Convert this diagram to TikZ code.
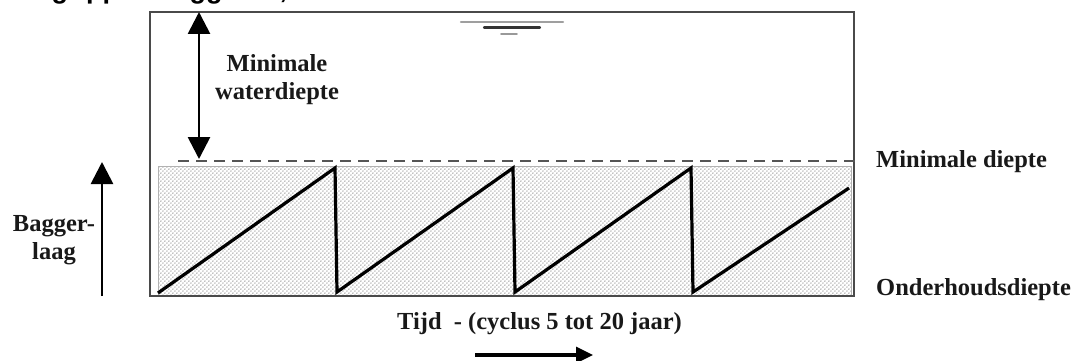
\documentclass[tikz,border=0pt]{standalone}
\usepackage{fontspec}
\setmainfont{Liberation Serif}
\newfontfamily\headfont{Liberation Sans}
\usetikzlibrary{arrows.meta,patterns}
\pgfdeclarepatternformonly{sanddots}{\pgfpointorigin}{\pgfpoint{4.4pt}{4.4pt}}{\pgfpoint{4.4pt}{4.4pt}}{%
  \pgfpathcircle{\pgfpoint{1.1pt}{1.1pt}}{0.8pt}%
  \pgfpathcircle{\pgfpoint{3.3pt}{3.3pt}}{0.8pt}%
  \pgfusepath{fill}}
\definecolor{boxgray}{HTML}{4A4A4A}
\definecolor{dashgray}{HTML}{555555}
\tikzset{
  lbl/.style={font=\bfseries\fontsize{24.5}{28}\selectfont, inner sep=0pt, text=black!90},
  bigarrow/.style={line width=2.8pt, -{Triangle[length=22pt,width=22pt]}},
  dblarrow/.style={line width=2.8pt, {Triangle[length=22pt,width=22pt]}-{Triangle[length=22pt,width=22pt]}},
  timearrow/.style={line width=3.2pt, -{Triangle[length=17pt,width=16pt]}},
  tooth/.style={line width=3.2pt, black, line join=miter},
  frame/.style={draw=boxgray, line width=1.7pt},
  mindash/.style={draw=dashgray, line width=1.5pt, dash pattern=on 11pt off 7pt},
  sand/.style={pattern=sanddots, pattern color=black!50},
  wl/.style={line width=2.2pt, line cap=round}
}
\begin{document}
\begin{tikzpicture}[x=1pt,y=-1pt]
\useasboundingbox (0,0) rectangle (1075,361);
\begin{scope}
\clip (0,0) rectangle (1075,361);
\node[anchor=base west, font=\headfont\bfseries\fontsize{27}{30}\selectfont, inner sep=0pt] (head) at (17,-1.5) {Begrippen baggeren,};
\end{scope}
% sand layer
\fill[sand] (158,166) rectangle (851,295);
\draw[gray!60, line width=0.7pt] (158,166) rectangle (851,295);
% frame
\draw[frame] (150,12) rectangle (854,296);
% minimal depth dashed line
\coordinate (dl) at (178,161);
\coordinate (dr) at (855,161);
\draw[mindash] (dl) -- (dr);
% water level symbol
\draw[wl, gray!75] (461,22) -- (563,22);
\draw[wl, black!80] (484,27.5) -- (540,27.5);
\draw[wl, gray!80, line width=1.8pt] (501,34) -- (517,34);
% sawtooth
\draw[tooth] (158,293) -- (335,168) -- (337,292) -- (513,168) -- (515,292) -- (691,168) -- (693,292) -- (849,188);
% labels
\node[lbl, align=center] (mwd) at (277,80) {Minimale\\waterdiepte};
\node[lbl, align=center] (bl) at (54,240) {Bagger-\\laag};
\node[lbl, anchor=base west] (md) at (876,167) {Minimale diepte};
\node[lbl, anchor=base west] (od) at (876,295) {Onderhoudsdiepte};
\node[lbl, anchor=base west] (tijd) at (397,329) {Tijd \ - (cyclus 5 tot 20 jaar)};
% arrows
\coordinate (wt) at (199,12);
\coordinate (wb) at (199,159);
\draw[dblarrow] (wt) -- (wb);
\coordinate (bb) at (102,296);
\coordinate (bt) at (102,162);
\draw[bigarrow] (bb) -- (bt);
\coordinate (ta) at (475,355);
\coordinate (tb) at (593,355);
\draw[timearrow] (ta) -- (tb);
\end{tikzpicture}
\end{document}
